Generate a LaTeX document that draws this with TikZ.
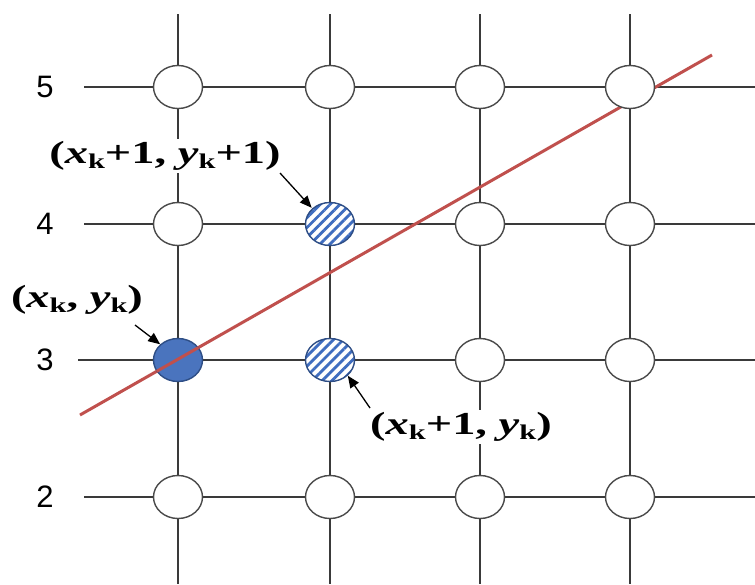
\documentclass[tikz,border=0pt]{standalone}
\usepackage{fontspec}
\setmainfont{Liberation Serif}
\newfontfamily\numfont{Liberation Sans}
\usetikzlibrary{shapes.geometric,arrows.meta,patterns.meta}
\definecolor{gridc}{HTML}{3A3A3A}
\definecolor{circc}{HTML}{4A4A4A}
\definecolor{bluef}{HTML}{4A74BE}
\definecolor{bluel}{HTML}{2E4E86}
\definecolor{hatchc}{HTML}{3F6DBF}
\definecolor{redl}{HTML}{C0504D}
\newcommand\kk{\raisebox{-0.35ex}{\fontsize{21}{21}\selectfont k}}
\newcommand\lbl[1]{\scalebox{1.45}[1]{\fontsize{32}{32}\selectfont\bfseries #1}}
\begin{document}
\begin{tikzpicture}[x=1pt,y=-1pt,
  gridline/.style={draw=gridc,line width=1.4pt},
  pix/.style={ellipse,draw=circc,line width=1.4pt,fill=white,minimum width=49pt,minimum height=43pt,inner sep=0pt},
  solidpix/.style={pix,fill=bluef,draw=bluel},
  hatchpix/.style={pix,preaction={fill=white},pattern={Lines[angle=45,distance=7pt,line width=2.8pt]},pattern color=hatchc,draw=bluel},
  numlab/.style={font=\numfont\fontsize{31}{31}\selectfont,inner sep=0pt},
  ptlab/.style={fill=white,inner sep=2pt},
  callout/.style={draw=black,line width=1.3pt,-{Triangle[length=12pt,width=10pt]}},
  redline/.style={draw=redl,line width=3pt}]
\useasboundingbox (0,0) rectangle (755,584);
% grid
\foreach \x in {178,330,480,630} \draw[gridline] (\x,14) -- (\x,584);
\foreach \y in {87,224,497} \draw[gridline] (84,\y) -- (755,\y);
\draw[gridline] (78,360) -- (755,360);
% row labels
\node[numlab] (n5) at (45,87) {5};
\node[numlab] (n4) at (45,224) {4};
\node[numlab] (n3) at (45,360) {3};
\node[numlab] (n2) at (45,497) {2};
% red line
\coordinate (ra) at (80,415);
\coordinate (rb) at (712,55);
\draw[redline] (ra) -- (rb);
% pixels
\node[pix] (c15) at (178,87) {};
\node[pix] (c25) at (330,87) {};
\node[pix] (c35) at (480,87) {};
\node[pix] (c45) at (630,87) {};
\node[pix] (c14) at (178,224) {};
\node[hatchpix] (c24) at (330,224) {};
\node[pix] (c34) at (480,224) {};
\node[pix] (c44) at (630,224) {};
\node[solidpix] (c13) at (178,360) {};
\node[hatchpix] (c23) at (330,360) {};
\node[pix] (c33) at (480,360) {};
\node[pix] (c43) at (630,360) {};
\node[pix] (c12) at (178,497) {};
\node[pix] (c22) at (330,497) {};
\node[pix] (c32) at (480,497) {};
\node[pix] (c42) at (630,497) {};
% red line over the solid pixel
\begin{scope}
\clip (178,360) ellipse [x radius=25pt, y radius=22pt];
\draw[redline] (ra) -- (rb);
\end{scope}
% point labels
\node[ptlab] (l1) at (165,156) {\lbl{(\textit{x}\kk+1, \textit{y}\kk+1)}};
\node[ptlab] (l2) at (77,300) {\lbl{(\textit{x}\kk, \textit{y}\kk)}};
\node[ptlab] (l3) at (461,427) {\lbl{(\textit{x}\kk+1, \textit{y}\kk)}};
% callouts
\coordinate (t1) at (280,173);
\coordinate (t2) at (135,325);
\coordinate (t3) at (370,408);
\draw[callout] (t1) -- (c24.north west);
\draw[callout] (t2) -- (c13.north west);
\draw[callout] (t3) -- (c23.south east);
\end{tikzpicture}
\end{document}
